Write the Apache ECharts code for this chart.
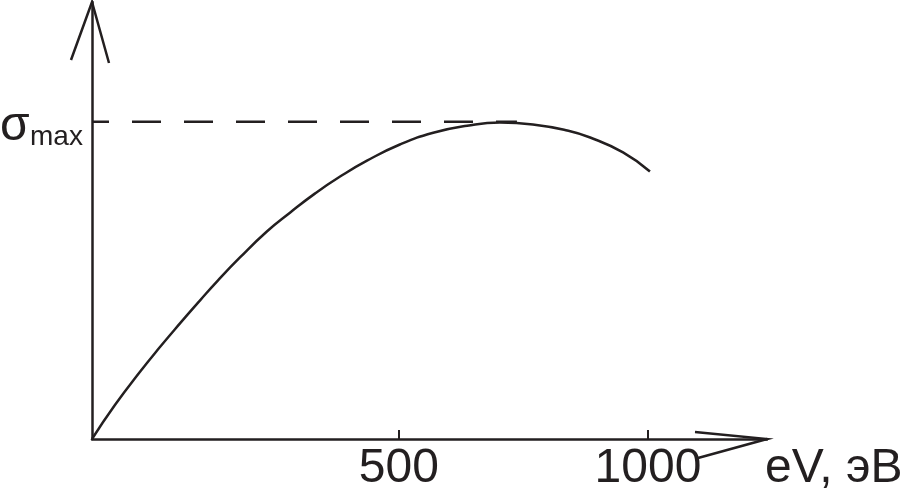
<!DOCTYPE html>
<html>
<head>
<meta charset="utf-8">
<script src="https://cdn.jsdelivr.net/npm/echarts@6/dist/echarts.min.js"></script>
<style>
html,body{margin:0;padding:0;background:#fff;}
#chart{width:904px;height:493px;}
</style>
</head>
<body>
<div id="chart"></div>
<script>
// Energy of electrons, eV
const energy = [-116, -70, -20, 20, 61, 101, 137, 181, 235, 282, 332, 382, 436, 502, 569, 637, 703, 769, 838, 884, 950, 1004];
// Cross-section, relative to sigma max
const sigma = [0, 0.107, 0.211, 0.289, 0.365, 0.437, 0.500, 0.572, 0.654, 0.714, 0.774, 0.827, 0.877, 0.928, 0.965, 0.987, 0.997, 0.991, 0.972, 0.950, 0.903, 0.843];
const xTicks = [500, 1000];
const sigmaMax = 1;
const sigmaMaxEnd = 737;
const xMin = -116, xMax = 1239;
const yMax = 1.377;

const ink = '#231f20';
const font = 'Liberation Sans, Arial, Helvetica, sans-serif';

const chart = echarts.init(document.getElementById('chart'), null, {renderer: 'canvas'});
const option = {
  backgroundColor: '#ffffff',
  animation: false,
  grid: {left: 92, right: 137, top: 2, bottom: 53, containLabel: false},
  xAxis: {
    type: 'value', min: xMin, max: xMax,
    axisLine: {show: true, onZero: false, lineStyle: {color: ink, width: 2.5}},
    axisTick: {show: true, inside: true, length: 9, customValues: xTicks, lineStyle: {color: ink, width: 2}},
    axisLabel: {show: true, customValues: xTicks, fontSize: 48, fontFamily: font, color: ink, margin: 6,
      formatter: v => String(v)},
    splitLine: {show: false}
  },
  yAxis: {
    type: 'value', min: 0, max: yMax,
    axisLine: {show: true, onZero: false, lineStyle: {color: ink, width: 2.5}},
    axisTick: {show: false},
    axisLabel: {show: false},
    splitLine: {show: false}
  },
  series: [
    {
      type: 'line',
      data: energy.map((e, i) => [e, sigma[i]]),
      smooth: 0.5,
      symbol: 'none',
      lineStyle: {color: ink, width: 2.5},
      z: 3
    },
    {
      type: 'line',
      data: [[xMin, sigmaMax], [sigmaMaxEnd, sigmaMax]],
      symbol: 'none',
      lineStyle: {color: ink, width: 2.5, type: [29, 23], dashOffset: 12},
      z: 2
    }
  ],
  graphic: [
    {type: 'polyline', shape: {points: [[71, 60], [92, 2], [109, 63]]}, style: {stroke: ink, lineWidth: 2.5, fill: null}},
    {type: 'polyline', shape: {points: [[695, 432], [767, 439], [698, 458]]}, style: {stroke: ink, lineWidth: 2.5, fill: null}},
    {type: 'text', left: 765, top: 445, style: {text: 'eV, эВ', font: '48px ' + font, fill: ink}},
    {type: 'text', left: 0, top: 103, style: {text: 'σ', font: '48px ' + font, fill: ink}},
    {type: 'text', left: 30, top: 123, style: {text: 'max', font: '28px ' + font, fill: ink}}
  ]
};
chart.setOption(option);
</script>
</body>
</html>
